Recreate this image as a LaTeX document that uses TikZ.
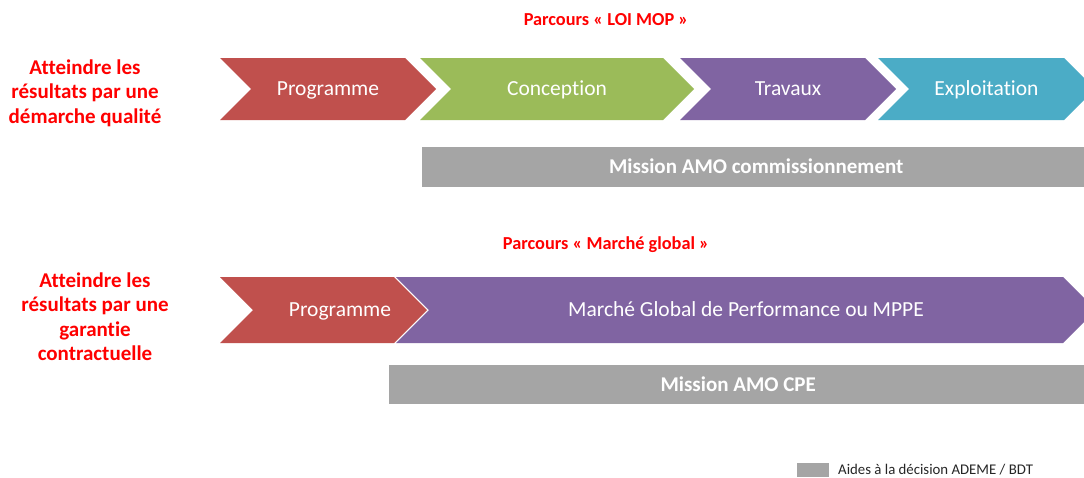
\documentclass[tikz,border=0pt]{standalone}
\usepackage{fontspec}
\setmainfont{Carlito}[Ligatures=NoCommon]
\usepackage{tikz}
\definecolor{chevred}{HTML}{C0504D}
\definecolor{chevgreen}{HTML}{9BBB59}
\definecolor{chevpurple}{HTML}{8064A2}
\definecolor{chevblue}{HTML}{4BACC6}
\definecolor{bargray}{HTML}{A5A5A5}
\begin{document}
\begin{tikzpicture}[x=1pt, y=-1pt]
  \tikzstyle{phase} = [text=white, text height=13.5pt, text depth=0pt, font=\fontsize{21.5}{25}\selectfont]
  \tikzstyle{mission} = [fill=bargray, text=white, text height=13.5pt, text depth=0pt, font=\bfseries\fontsize{21}{25}\selectfont, inner sep=0pt, anchor=west]
  \tikzstyle{parcours} = [text=red, font=\bfseries\fontsize{18.3}{22}\selectfont]
  \tikzstyle{objectif} = [text=red, align=center, font=\bfseries\fontsize{21}{24.5}\selectfont]
  \fill[white] (0,0) rectangle (1084,477);
  \clip (0,0) rectangle (1084,477);
  % parcours loi MOP
  \node[parcours] (titreA) at (606,20) {Parcours « LOI MOP »};
  \node[objectif] (objA) at (85,93) {Atteindre les\\résultats par une\\démarche qualité};
  \foreach \l/\r/\col/\name/\txt in {220/436/chevred/progA/Programme, 420/694/chevgreen/concA/Conception, 680/896/chevpurple/travA/Travaux, 878/1095/chevblue/explA/Exploitation} {
    \fill[\col] (\l,58) -- ({\r-31},58) -- (\r,89) -- ({\r-31},120) -- (\l,120) -- ({\l+31},89) -- cycle;
    \node[phase] (\name) at ({(\l+\r)/2},89) {\txt};
  }
  \node[mission, minimum width=668pt, minimum height=40pt] (amoA) at (422,167) {Mission AMO commissionnement};
  % parcours marche global
  \node[parcours] (titreB) at (606,245) {Parcours « Marché global »};
  \node[objectif] (objB) at (95,316.5) {Atteindre les\\résultats par une\\garantie\\contractuelle};
  \fill[chevred] (220,277) -- (394,277) -- (427,310) -- (394,343) -- (220,343) -- (253,310) -- cycle;
  \fill[chevpurple] (396,277) -- (1063,277) -- (1096,310) -- (1063,343) -- (396,343) -- (429,310) -- cycle;
  \node[phase] (progB) at (340,310) {Programme};
  \node[phase] (mgp) at (746,310) {Marché Global de Performance ou MPPE};
  \node[mission, minimum width=698pt, minimum height=39pt] (amoB) at (389,384.5) {Mission AMO CPE};
  % legende
  \node[fill=bargray, minimum width=32pt, minimum height=14pt, inner sep=0pt] (legkey) at (813,470) {};
  \node[anchor=west, inner sep=0pt, text=black!85, font=\fontsize{14.8}{18}\selectfont] (legtxt) at (838,470) {Aides à la décision ADEME / BDT};
\end{tikzpicture}
\end{document}
